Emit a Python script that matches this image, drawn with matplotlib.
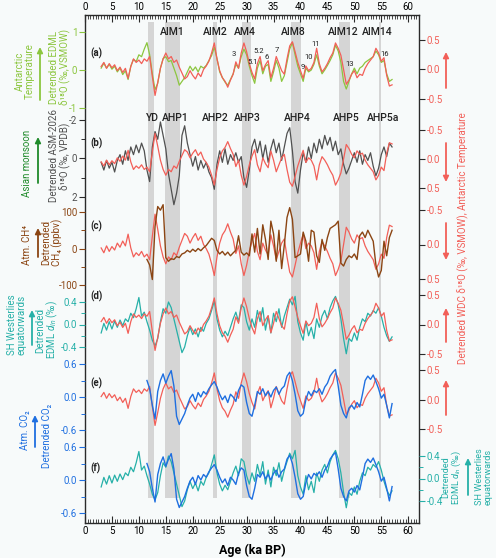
import matplotlib

matplotlib.use("Agg")
import matplotlib.pyplot as plt
from matplotlib.patches import FancyArrowPatch
from matplotlib.ticker import MultipleLocator

plt.rcParams["font.family"] = ["Roboto", "DejaVu Sans"]
plt.rcParams["mathtext.fontset"] = "custom"
plt.rcParams["mathtext.rm"] = "Roboto"
plt.rcParams["mathtext.it"] = "Roboto:italic"

# ---- data (ka BP, 0.5 ka steps) ----
age = [
    3.0, 3.5, 4.0, 4.5, 5.0, 5.5, 6.0, 6.5, 7.0, 7.5,
    8.0, 8.5, 9.0, 9.5, 10.0, 10.5, 11.0, 11.5, 12.0, 12.5,
    13.0, 13.5, 14.0, 14.5, 15.0, 15.5, 16.0, 16.5, 17.0, 17.5,
    18.0, 18.5, 19.0, 19.5, 20.0, 20.5, 21.0, 21.5, 22.0, 22.5,
    23.0, 23.5, 24.0, 24.5, 25.0, 25.5, 26.0, 26.5, 27.0, 27.5,
    28.0, 28.5, 29.0, 29.5, 30.0, 30.5, 31.0, 31.5, 32.0, 32.5,
    33.0, 33.5, 34.0, 34.5, 35.0, 35.5, 36.0, 36.5, 37.0, 37.5,
    38.0, 38.5, 39.0, 39.5, 40.0, 40.5, 41.0, 41.5, 42.0, 42.5,
    43.0, 43.5, 44.0, 44.5, 45.0, 45.5, 46.0, 46.5, 47.0, 47.5,
    48.0, 48.5, 49.0, 49.5, 50.0, 50.5, 51.0, 51.5, 52.0, 52.5,
    53.0, 53.5, 54.0, 54.5, 55.0, 55.5, 56.0, 56.5, 57.0,
]
age_gas = age[17:]  # CH4 and CO2 records start at 11.5 ka

wdc_d18o = [
    0.05, 0.12, 0.02, 0.10, 0.03, 0.08, -0.02, 0.04, -0.05, 0.02,
    -0.15, 0.05, 0.18, 0.12, 0.16, 0.10, 0.18, 0.14, 0.22, -0.12,
    -0.44, -0.22, 0.02, 0.18, 0.28, 0.18, 0.22, 0.12, 0.16, 0.04,
    -0.06, -0.16, -0.12, -0.02, -0.10, -0.16, -0.06, -0.12, 0.00, 0.06,
    0.14, 0.28, 0.45, 0.18, -0.02, -0.14, -0.20, -0.30, -0.18, -0.08,
    0.13, 0.02, 0.28, 0.45, 0.30, 0.10, -0.05, -0.16, 0.10, 0.22,
    -0.02, 0.08, 0.15, -0.14, 0.02, 0.22, 0.10, -0.02, -0.08, 0.18,
    0.40, 0.47, 0.30, 0.12, -0.02, -0.15, 0.06, -0.02, 0.02, 0.12,
    0.36, 0.10, -0.04, 0.02, 0.10, 0.20, 0.28, 0.45, 0.36, 0.24,
    0.00, -0.25, -0.18, -0.08, -0.02, -0.14, -0.08, -0.10, 0.02, 0.10,
    0.16, 0.22, 0.36, 0.28, 0.14, 0.20, -0.10, -0.28, -0.26,
]
edml_d18o = [
    0.05, 0.18, 0.05, 0.15, 0.02, 0.10, -0.05, 0.05, -0.12, -0.02,
    -0.25, 0.10, 0.28, 0.22, 0.40, 0.35, 0.55, 0.72, 0.40, -0.10,
    -0.52, -0.35, 0.05, 0.30, 0.35, 0.22, 0.25, 0.05, -0.15, -0.40,
    -0.30, -0.20, -0.05, 0.10, -0.02, 0.08, -0.05, 0.10, 0.05, 0.12,
    0.25, 0.38, 0.60, 0.30, -0.05, -0.20, -0.32, -0.40, -0.25, -0.10,
    0.15, 0.05, 0.35, 0.55, 0.40, 0.10, -0.15, -0.35, 0.05, 0.25,
    -0.10, 0.10, 0.15, -0.30, -0.05, 0.25, 0.05, -0.30, -0.15, 0.20,
    0.55, 0.72, 0.40, 0.10, -0.10, -0.30, 0.05, -0.05, 0.00, 0.15,
    0.40, 0.10, -0.10, 0.00, 0.12, 0.25, 0.40, 0.65, 0.50, 0.20,
    -0.30, -0.50, -0.30, -0.10, 0.05, -0.10, 0.05, 0.10, 0.20, 0.25,
    0.30, 0.35, 0.50, 0.40, 0.20, 0.25, -0.10, -0.30, -0.25,
]
asm_d18o = [
    0.2, 0.6, 0.1, 0.5, 0.2, 0.7, 0.1, -0.2, 0.3, -0.4,
    0.1, -0.6, -0.2, -0.7, -0.3, -0.8, -0.4, 0.6, 1.2, -0.6,
    -1.4, -1.0, -1.9, -1.2, -0.5, 0.8, 1.6, 2.4, 1.8, 0.9,
    -1.2, -1.7, -0.8, -0.2, 0.4, -0.1, 0.6, 0.1, 0.5, 0.2,
    0.7, 1.0, 1.6, 0.3, -0.4, 0.2, -0.5, 0.3, -0.2, 0.1,
    -0.3, 0.2, -0.1, 1.0, 1.5, 0.6, -0.6, -1.0, -0.3, -0.9,
    0.0, -0.7, 0.2, -0.5, -1.0, -0.3, -0.8, 0.1, -0.6, -1.3,
    -1.6, -0.4, 1.2, 1.8, 0.6, -0.3, 0.2, -0.6, 0.0, -0.8,
    -0.3, -1.0, -0.5, -1.2, -0.7, -1.1, -0.4, -0.9, -0.2, -0.5,
    0.3, 0.8, 0.5, 0.1, -0.3, 0.2, -0.4, 0.3, -0.2, 0.1,
    -0.3, 0.4, 0.9, 0.5, -0.2, -0.6, -0.1, -0.8, -0.6,
]
edml_dln = [
    -0.15, 0.02, -0.10, 0.05, -0.08, 0.06, -0.05, 0.08, -0.02, 0.10,
    0.05, 0.20, 0.12, 0.28, 0.48, 0.15, 0.22, 0.05, -0.10, -0.28,
    -0.38, -0.25, 0.05, 0.28, 0.20, 0.40, 0.30, 0.10, -0.10, -0.30,
    -0.50, -0.40, -0.20, -0.05, -0.18, -0.08, -0.22, -0.05, -0.12, 0.02,
    0.10, 0.25, 0.42, 0.10, -0.10, -0.22, -0.12, -0.20, -0.05, 0.10,
    0.22, 0.05, 0.35, 0.30, 0.05, -0.10, 0.10, -0.05, 0.25, 0.05,
    0.30, -0.10, 0.15, -0.15, 0.20, 0.05, 0.28, -0.05, 0.15, 0.30,
    0.45, 0.35, 0.50, 0.05, -0.15, -0.28, 0.05, -0.20, -0.05, -0.25,
    0.10, -0.05, 0.15, 0.25, 0.10, 0.30, 0.42, 0.50, 0.35, 0.10,
    -0.25, -0.52, -0.25, -0.30, -0.15, -0.28, -0.05, 0.10, 0.05, 0.20,
    0.15, 0.25, 0.20, 0.30, 0.15, -0.05, -0.20, -0.30, -0.22,
]
ch4 = [
    -30, -45, -85, 60, 115, 105, 120, -25, -35, -28,
    -30, -22, -25, -15, -12, -5, -10, -2, -8, 0,
    -6, 2, 8, 18, 28, 22, -5, -15, -8, -18,
    -10, -20, -12, -5, 35, -10, -18, -12, -20, 40,
    -10, 55, -15, 65, 25, -30, 75, 40, -35, 50,
    -55, 10, 85, 112, 80, -25, -20, -15, 45, 20,
    -35, 50, 45, -20, -38, 25, -5, 30, 55, 60,
    65, 75, -40, -48, -30, -20, -25, -15, -30, 35,
    45, 30, 50, 35, 20, -45, -78, -60, 20, -20,
    30, 50,
]
co2 = [
    0.30, 0.15, -0.15, -0.40, 0.10, 0.30, 0.42, 0.25, 0.38, 0.48,
    0.20, -0.35, -0.50, -0.40, -0.30, -0.15, -0.02, 0.05, -0.08, 0.08,
    0.00, 0.10, 0.05, 0.15, 0.22, 0.28, 0.18, 0.05, -0.05, 0.02,
    -0.10, 0.05, 0.00, -0.08, 0.12, 0.22, 0.18, -0.10, -0.30, -0.35,
    -0.15, 0.10, 0.05, 0.15, 0.02, 0.10, 0.00, 0.12, 0.18, 0.05,
    0.15, 0.20, 0.38, 0.45, 0.30, 0.05, -0.25, -0.35, -0.30, -0.05,
    0.10, 0.02, 0.12, 0.08, 0.15, 0.05, 0.18, 0.25, 0.38, 0.45,
    0.50, 0.20, -0.15, -0.30, -0.38, -0.20, -0.15, -0.22, -0.10, -0.18,
    0.05, 0.30, 0.38, 0.32, 0.40, 0.28, 0.15, -0.02, 0.05, -0.15,
    -0.38, -0.12,
]

# shaded intervals (ka BP)
band_start = [11.7, 14.9, 23.8, 29.2, 38.3, 47.2, 54.5]
band_end = [12.8, 17.7, 24.5, 30.9, 40.1, 49.1, 55.0]

aim_labels = ["AIM1", "AIM2", "AM4", "AIM8", "AIM12", "AIM14"]
ahp_labels = ["YD", "AHP1", "AHP2", "AHP3", "AHP4", "AHP5", "AHP5a"]
event_numbers = ["3", "5.1", "5.2", "6", "7", "9", "10", "11", "13", "16"]

# ---- colours ----
BG = "#f7fafa"
RED = "#f25f58"
GREEN = "#8cc63f"
GRAY = "#505050"
DKGREEN = "#1f8a2a"
BROWN = "#8b4513"
TEAL = "#26b0a8"
BLUE = "#1f6fe0"
SHADE = "#d5d5d5"
SPINE = "#2a2a2a"

# ---- layout in pixels ----
W, H = 496, 558
F_TOP, F_BOT, F_L, F_R = 15, 523, 85, 419


def fx(px):
    return px / W


def fy(py):
    return 1 - py / H


fig = plt.figure(figsize=(W / 100, H / 100), dpi=100, facecolor=BG)
rect = [fx(F_L), fy(F_BOT), (F_R - F_L) / W, (F_BOT - F_TOP) / H]

base = fig.add_axes(rect)
base.set_facecolor(BG)
base.set_xlim(0, 62)
base.set_ylim(0, 1)
base.set_yticks([])
base.xaxis.set_major_locator(MultipleLocator(5))
base.xaxis.set_minor_locator(MultipleLocator(0.5))
base.tick_params(axis="x", which="both", direction="in", top=True, bottom=True,
                 labeltop=True, labelbottom=True, labelsize=7, pad=2,
                 color=SPINE)
base.tick_params(axis="x", which="major", length=5, width=0.8)
base.tick_params(axis="x", which="minor", length=3, width=0.6)
for sp in base.spines.values():
    sp.set_color(SPINE)
    sp.set_linewidth(1.0)
base.set_xlabel("Age (ka BP)", fontsize=9, fontweight="bold", labelpad=6)

for s, e in zip(band_start, band_end):
    base.axvspan(s, e, ymin=(F_BOT - 498) / (F_BOT - F_TOP),
                 ymax=(F_BOT - 22) / (F_BOT - F_TOP), color=SHADE, lw=0)


def panel_axis(v1, p1, v2, p2, side, color, ticks, labels, minor=(),
               tickcolor=None):
    a = fig.add_axes(rect)
    a.patch.set_visible(False)
    for sp in a.spines.values():
        sp.set_visible(False)
    a.set_xlim(0, 62)
    a.set_xticks([])
    top = v1 + (v1 - v2) * (p1 - F_TOP) / (p2 - p1)
    bot = v1 - (v1 - v2) * (F_BOT - p1) / (p2 - p1)
    a.set_ylim(bot, top)
    a.set_yticks(ticks)
    a.set_yticklabels(labels)
    a.set_yticks(list(minor), minor=True)
    right = side == "right"
    a.tick_params(axis="y", which="both", direction="out",
                  left=not right, labelleft=not right,
                  right=right, labelright=right,
                  labelcolor=color, color=tickcolor or color,
                  labelsize=7, pad=1.5)
    a.tick_params(axis="y", which="major", length=4, width=0.8)
    a.tick_params(axis="y", which="minor", length=3, width=0.7)
    return a


lw = 0.9
red_ticks = [-0.5, 0.0, 0.5]
red_labels = ["-0.5", "0.0", "0.5"]

# (a)
ax = panel_axis(1, 32, -1, 108, "left", GREEN, [-1, 0, 1], ["-1", "0", "1"],
                tickcolor=GREEN)
ax.plot(age, edml_d18o, color=GREEN, lw=lw)
ax = panel_axis(0.5, 40, -0.5, 99, "right", RED, red_ticks, red_labels,
                tickcolor=SPINE)
ax.plot(age, wdc_d18o, color=RED, lw=lw)

# (b)
ax = panel_axis(-2, 120, 2, 197, "left", GRAY, [-2, 0, 2], ["-2", "0", "2"],
                minor=[-1, 1], tickcolor=SPINE)
ax.plot(age, asm_d18o, color=GRAY, lw=lw)
ax = panel_axis(-0.5, 130, 0.5, 188, "right", RED, red_ticks, red_labels,
                tickcolor=SPINE)
ax.plot(age, wdc_d18o, color=RED, lw=lw)

# (c)
ax = panel_axis(-0.5, 210, 0.5, 279, "right", RED, red_ticks, red_labels,
                tickcolor=SPINE)
ax.plot(age, wdc_d18o, color=RED, lw=lw)
ax = panel_axis(100, 212, -100, 285, "left", BROWN, [-100, 0, 100],
                ["-100", "0", "100"], minor=[-50, 50])
ax.plot(age_gas, ch4, color=BROWN, lw=1.0)

# (d)
ax = panel_axis(0.4, 302, -0.4, 347, "left", TEAL, [-0.4, 0, 0.4],
                ["-0.4", "0.0", "0.4"], minor=[-0.2, 0.2])
ax.plot(age, edml_dln, color=TEAL, lw=lw)
ax = panel_axis(0.5, 295, -0.5, 354, "right", RED, red_ticks, red_labels,
                tickcolor=SPINE)
ax.plot(age, wdc_d18o, color=RED, lw=lw)

# (e)
ax = panel_axis(0.5, 370, -0.5, 429, "right", RED, red_ticks, red_labels,
                tickcolor=SPINE)
ax.plot(age, wdc_d18o, color=RED, lw=lw)
ax = panel_axis(0.6, 364, -0.6, 430, "left", BLUE, [-0.6, 0, 0.6],
                ["-0.6", "0.0", "0.6"], minor=[-0.3, 0.3])
ax.plot(age_gas, co2, color=BLUE, lw=1.0)

# (f)
ax = panel_axis(0.4, 456, -0.4, 501, "right", TEAL, [-0.4, 0, 0.4],
                ["-0.4", "0.0", "0.4"], minor=[-0.2, 0.2])
ax.plot(age, edml_dln, color=TEAL, lw=lw)
ax = panel_axis(0.6, 447, -0.6, 513, "left", BLUE, [-0.6, 0, 0.6],
                ["-0.6", "0.0", "0.6"], minor=[-0.3, 0.3])
ax.plot(age_gas, co2, color=BLUE, lw=1.0)

# ---- annotations ----
for letter, py in zip("abcdef", [53, 143, 226, 296, 383, 468]):
    fig.text(fx(90), fy(py), f"({letter})", fontsize=7, fontweight="bold",
             va="center", ha="left", color="#222222")

for txt, px in zip(aim_labels, [172, 215, 245, 293, 343, 377]):
    fig.text(fx(px), fy(32), txt, fontsize=7.5, fontweight="medium",
             ha="center", va="center", color="#222222")
for txt, px in zip(ahp_labels, [152, 175, 215, 247, 297, 346, 383]):
    fig.text(fx(px), fy(118), txt, fontsize=7.5, fontweight="medium",
             ha="center", va="center", color="#222222")
num_pos = [(234, 54), (253, 62), (259, 51), (267, 57), (277, 50),
           (303, 67), (309, 57), (316, 44), (350, 64), (385, 54)]
for txt, (px, py) in zip(event_numbers, num_pos):
    fig.text(fx(px), fy(py), txt, fontsize=5.5, ha="center", va="center",
             color="#222222")

side_texts = [
    ("Antarctic\nTemperature", 25, 71, GREEN, 7),
    ("Detrended EDML\nδ¹⁸O (‰,VSMOW)", 60, 67, GREEN, 7),
    ("Asian monsoon", 27, 163, DKGREEN, 7),
    ("Detrended ASM-2026\nδ¹⁸O (‰, VPDB)", 60, 156, GRAY, 7),
    ("Atm. CH⁴", 27, 245, BROWN, 7),
    ("Detrended\nCH₄ (ppbv)", 52, 242, BROWN, 7),
    ("SH Westerlies\nequatorwards", 17, 325, TEAL, 7),
    ("Detrended\nEDML $d_{ln}$ (‰)", 48, 330, TEAL, 7),
    ("Atm. CO₂", 25, 430, BLUE, 7),
    ("Detrended CO₂", 47, 436, BLUE, 7),
    ("Detrended WDC δ¹⁸O (‰, VSMOW), Antarctic Temperature", 463, 238,
     RED, 7),
    ("Detrended\nEDML $d_{ln}$ (‰)", 452, 477, TEAL, 6.6),
    ("SH Westerlies\nequatorwards", 484, 477, TEAL, 6.6),
]
for txt, px, py, c, fs in side_texts:
    fig.text(fx(px), fy(py), txt, rotation=90, fontsize=fs, color=c,
             ha="center", va="center", multialignment="center",
             linespacing=0.95)

arrows = [
    (40, 100, 47, GREEN), (38, 183, 137, DKGREEN), (38, 257, 228, BROWN),
    (32, 345, 310, TEAL), (35, 447, 415, BLUE),
    (446, 88, 52, RED), (446, 143, 182, RED), (446, 223, 260, RED),
    (446, 342, 308, RED), (446, 415, 380, RED), (468, 495, 458, TEAL),
]
for px, y0, y1, c in arrows:
    fig.add_artist(FancyArrowPatch((fx(px), fy(y0)), (fx(px), fy(y1)),
                                   transform=fig.transFigure,
                                   arrowstyle="-|>", mutation_scale=8,
                                   color=c, lw=1.3, shrinkA=0, shrinkB=0))

fig.savefig("out.png", dpi=100, facecolor=BG)
